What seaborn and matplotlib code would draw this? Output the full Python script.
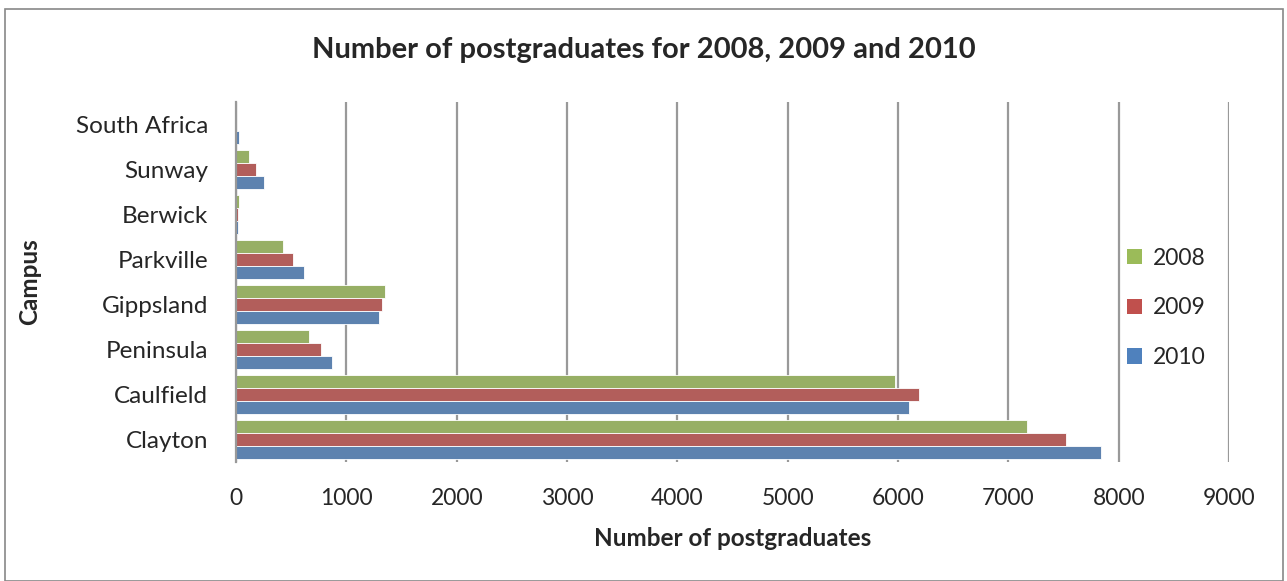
import matplotlib
matplotlib.use("Agg")
import matplotlib.pyplot as plt
import seaborn as sns
import pandas as pd
from matplotlib.patches import Rectangle, Patch

campuses = ["South Africa", "Sunway", "Berwick", "Parkville", "Gippsland", "Peninsula", "Caulfield", "Clayton"]
years = ["2008", "2009", "2010"]
v2008 = [0, 120, 25, 430, 1350, 663, 5975, 7170]
v2009 = [0, 185, 20, 520, 1325, 772, 6190, 7520]
v2010 = [30, 250, 20, 620, 1295, 870, 6100, 7840]
xticks = [0, 1000, 2000, 3000, 4000, 5000, 6000, 7000, 8000, 9000]

rows = []
for yr, vals in zip(years, [v2008, v2009, v2010]):
    for c, v in zip(campuses, vals):
        rows.append({"Campus": c, "Year": yr, "Value": v})
df = pd.DataFrame(rows)

colors = {"2008": "#9BBB59", "2009": "#C0504D", "2010": "#4F81BD"}

sns.set_theme(style="white")
plt.rcParams["font.family"] = ["Lato", "DejaVu Sans"]

fig = plt.figure(figsize=(12.87, 5.81), dpi=100)
ax = fig.add_axes([0.1834, 0.2053, 0.955 - 0.1834, 0.825 - 0.2053])

sns.barplot(data=df, y="Campus", x="Value", hue="Year", order=campuses,
            hue_order=years, palette=colors, orient="h", width=0.87,
            edgecolor="white", linewidth=0.6, ax=ax, legend=False)

ax.set_xlim(0, 9000)
ax.set_ylim(len(campuses) - 0.5, -0.5)
ax.set_xticks(xticks)
ax.set_xticklabels([str(t) for t in xticks], fontsize=16.5)
ax.tick_params(axis="y", labelsize=17.5, length=0, pad=20)
ax.tick_params(axis="x", length=0, pad=19)
ax.xaxis.grid(True, color="#999999", linewidth=1.6)
ax.set_axisbelow(True)
for s in ["top", "right", "bottom"]:
    ax.spines[s].set_visible(False)
ax.spines["left"].set_color("#999999")
ax.spines["left"].set_linewidth(1.6)

ax.set_xlabel("Number of postgraduates", fontsize=17.5, fontweight="bold")
ax.set_ylabel("Campus", fontsize=17.5, fontweight="bold")
ax.xaxis.set_label_coords((733 - 236) / (1229 - 236), -(527 - 461.7) / 360.0)
ax.yaxis.set_label_coords(-(236 - 41) / (1229 - 236), 0.5)

fig.text(0.5, 1 - 50 / 581, "Number of postgraduates for 2008, 2009 and 2010",
         ha="center", va="center", fontsize=21, fontweight="bold")

handles = [Patch(facecolor=colors[y], edgecolor="none") for y in years]
leg = fig.legend(handles, years, loc="center left", bbox_to_anchor=(0.867, 1 - 308 / 581),
                 frameon=False, fontsize=16.5, handlelength=0.65, handleheight=0.65,
                 labelspacing=1.25, handletextpad=0.45, borderpad=0)

fig.patches.append(Rectangle((0.004, 0.0), 0.993, 0.984, transform=fig.transFigure,
                             fill=False, edgecolor="#888888", linewidth=1.2))

fig.savefig("out.png", dpi=100)
